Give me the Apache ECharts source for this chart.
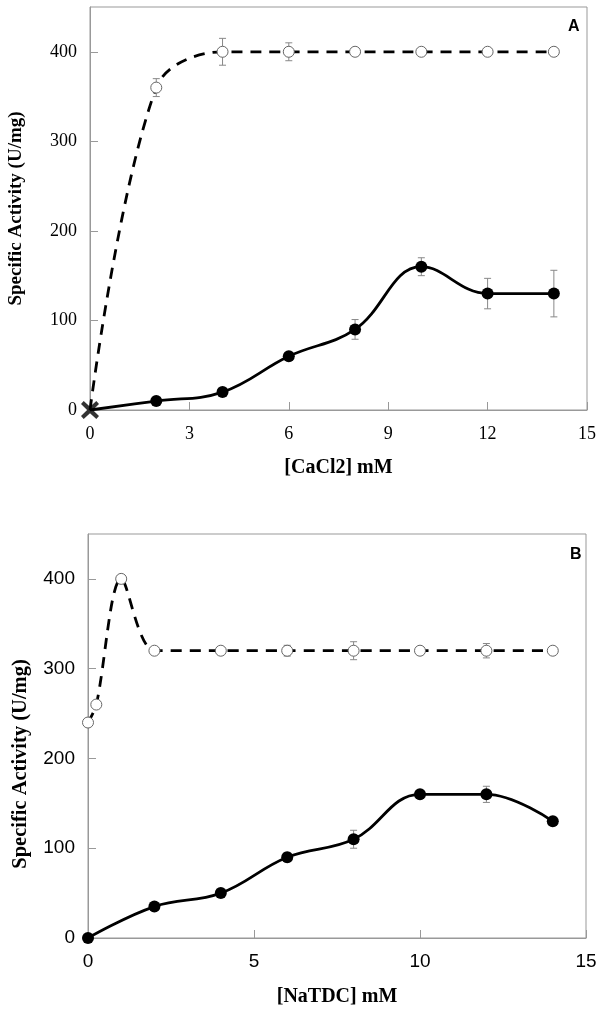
<!DOCTYPE html>
<html><head><meta charset="utf-8">
<script src="https://cdn.jsdelivr.net/npm/echarts@6/dist/echarts.min.js"></script>
<style>html,body{margin:0;padding:0;background:#fff}#c{width:600px;height:1013px}</style>
</head><body><div id="c"></div>
<script>
// ---- Panel A data ----
const xA = [0, 2, 4, 6, 8, 10, 12, 14];
const openA = [0, 360, 400, 400, 400, 400, 400, 400];
const openErrA = [0, 10, 15, 10, 0, 0, 0, 0];
const filledA = [0, 10, 20, 60, 90, 160, 130, 130];
const filledErrA = [0, 0, 0, 0, 11, 10, 17, 26];
const xTicksA = [0, 3, 6, 9, 12, 15];

// ---- Panel B data ----
const xOpenB = [0, 0.25, 1, 2, 4, 6, 8, 10, 12, 14];
const openB = [240, 260, 400, 320, 320, 320, 320, 320, 320, 320];
const openErrB = [0, 0, 0, 0, 0, 6, 10, 0, 8, 0];
const xFilledB = [0, 2, 4, 6, 8, 10, 12, 14];
const filledB = [0, 35, 50, 90, 110, 160, 160, 130];
const filledErrB = [0, 0, 0, 5, 10, 0, 9, 0];
const xTicksB = [0, 5, 10, 15];

const yTicks = [0, 100, 200, 300, 400];
const yTitle = 'Specific Activity (U/mg)';
const xTitleA = '[CaCl2] mM';
const xTitleB = '[NaTDC] mM';
const panelA = 'A';
const panelB = 'B';

const GRAY = '#999';
const SERIF = 'Liberation Serif';
const SANS = 'Liberation Sans';

function pairs(xs, ys, hideFirst) {
  return xs.map((x, i) => {
    const d = { value: [x, ys[i]] };
    if (hideFirst && i === 0) d.symbol = 'none';
    return d;
  });
}
function errData(xs, ys, es) {
  const out = [];
  xs.forEach((x, i) => { if (es[i] > 0) out.push([x, ys[i] - es[i], ys[i] + es[i]]); });
  return out;
}
function errItem(params, api) {
  const x = api.value(0), lo = api.value(1), hi = api.value(2);
  const a = api.coord([x, hi]), b = api.coord([x, lo]);
  const w = 3.5;
  const st = { stroke: '#888', lineWidth: 1 };
  return { type: 'group', children: [
    { type: 'line', shape: { x1: a[0], y1: a[1], x2: b[0], y2: b[1] }, style: st },
    { type: 'line', shape: { x1: a[0] - w, y1: a[1], x2: a[0] + w, y2: a[1] }, style: st },
    { type: 'line', shape: { x1: b[0] - w, y1: b[1], x2: b[0] + w, y2: b[1] }, style: st }
  ]};
}

function xAxisCfg(gi, ticks, name, font, fsize, gap, margin) {
  return {
    type: 'value', gridIndex: gi, min: ticks[0], max: ticks[ticks.length - 1],
    interval: ticks[1] - ticks[0],
    name: name, nameLocation: 'middle', nameGap: gap,
    nameTextStyle: { fontFamily: SERIF, fontWeight: 'bold', fontSize: 20, color: '#000' },
    axisLine: { lineStyle: { color: GRAY, width: 1 } },
    axisTick: { inside: true, length: 8, lineStyle: { color: GRAY }, customValues: ticks },
    axisLabel: { fontFamily: font, fontSize: fsize, color: '#000', margin: margin, customValues: ticks },
    splitLine: { show: false }
  };
}
function yAxisCfg(gi, font, fsize, gap, nsize, pad) {
  return {
    type: 'value', gridIndex: gi, min: 0, max: 450, interval: 100,
    name: yTitle, nameLocation: 'middle', nameGap: gap,
    nameTextStyle: { fontFamily: SERIF, fontWeight: 'bold', fontSize: nsize, color: '#000', padding: pad },
    axisLine: { lineStyle: { color: GRAY, width: 1 } },
    axisTick: { inside: true, length: 8, lineStyle: { color: GRAY }, customValues: yTicks },
    axisLabel: { fontFamily: font, fontSize: fsize, color: '#000', margin: 13, customValues: yTicks },
    splitLine: { show: false }
  };
}

const openItem = { color: '#fff', borderColor: '#666', borderWidth: 1 };
const lineSolid = { color: '#000', width: 2.8, type: 'solid' };
const lineDash = { color: '#000', width: 2.8, type: [11, 8] };
const crossPath = 'path://M1.5,0 L5,3.2 L8.5,0 L10,1.6 L6.6,5 L10,8.4 L8.5,10 L5,6.8 L1.5,10 L0,8.4 L3.4,5 L0,1.6 Z';

const option = {
  animation: false,
  backgroundColor: '#fff',
  title: [
    { text: panelA, left: 563, top: 14, textStyle: { fontFamily: SANS, fontWeight: 'bold', fontSize: 16, color: '#000' } },
    { text: panelB, left: 565, top: 542, textStyle: { fontFamily: SANS, fontWeight: 'bold', fontSize: 16, color: '#000' } }
  ],
  grid: [
    { left: 90, top: 7, width: 497, height: 403, show: true, borderColor: GRAY, borderWidth: 1, backgroundColor: '#fff', containLabel: false, outerBoundsMode: 'none' },
    { left: 88, top: 534, width: 498, height: 404, show: true, borderColor: GRAY, borderWidth: 1, backgroundColor: '#fff', containLabel: false, outerBoundsMode: 'none' }
  ],
  xAxis: [
    xAxisCfg(0, xTicksA, xTitleA, SERIF, 18, 48, 15),
    xAxisCfg(1, xTicksB, xTitleB, SANS, 19, 49, 14)
  ],
  yAxis: [
    yAxisCfg(0, SERIF, 18, 64, 19, 0),
    yAxisCfg(1, SANS, 19, 57, 20.5, [0, 56, 0, 0])
  ],
  series: [
    // Panel A
    { type: 'custom', xAxisIndex: 0, yAxisIndex: 0, renderItem: errItem, data: errData(xA, openA, openErrA), encode: { x: 0, y: [1, 2] }, z: 1 },
    { type: 'custom', xAxisIndex: 0, yAxisIndex: 0, renderItem: errItem, data: errData(xA, filledA, filledErrA), encode: { x: 0, y: [1, 2] }, z: 1 },
    { type: 'line', xAxisIndex: 0, yAxisIndex: 0, smooth: 0.35, data: pairs(xA, openA, true),
      symbol: 'circle', symbolSize: 11, itemStyle: openItem, lineStyle: lineDash, z: 3 },
    { type: 'line', xAxisIndex: 0, yAxisIndex: 0, smooth: 0.4, data: pairs(xA, filledA, true),
      symbol: 'circle', symbolSize: 12, itemStyle: { color: '#000' }, lineStyle: lineSolid, z: 4 },
    { type: 'scatter', xAxisIndex: 0, yAxisIndex: 0, data: [[xA[0], filledA[0]]],
      symbol: crossPath, symbolSize: [18, 18], itemStyle: { color: '#000' }, z: 6 },
    // Panel B
    { type: 'custom', xAxisIndex: 1, yAxisIndex: 1, renderItem: errItem, data: errData(xOpenB, openB, openErrB), encode: { x: 0, y: [1, 2] }, z: 1 },
    { type: 'custom', xAxisIndex: 1, yAxisIndex: 1, renderItem: errItem, data: errData(xFilledB, filledB, filledErrB), encode: { x: 0, y: [1, 2] }, z: 1 },
    { type: 'line', xAxisIndex: 1, yAxisIndex: 1, smooth: 0.3, data: pairs(xOpenB, openB, false),
      symbol: 'circle', symbolSize: 11, itemStyle: openItem, lineStyle: lineDash, z: 3 },
    { type: 'line', xAxisIndex: 1, yAxisIndex: 1, smooth: 0.4, data: pairs(xFilledB, filledB, false),
      symbol: 'circle', symbolSize: 12, itemStyle: { color: '#000' }, lineStyle: lineSolid, z: 4 }
  ]
};
const chart = echarts.init(document.getElementById('c'), null, { renderer: 'canvas' });
chart.setOption(option);
</script>
</body></html>
